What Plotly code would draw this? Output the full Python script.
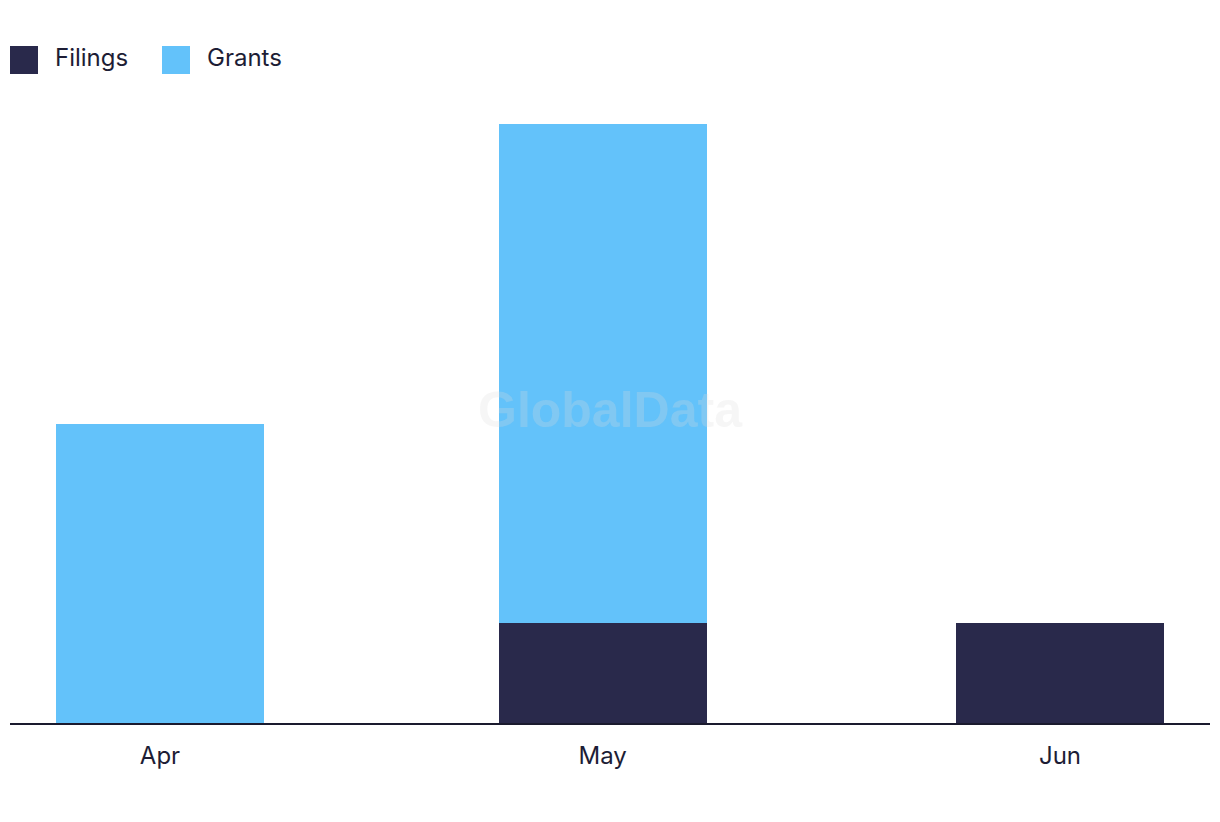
import plotly.graph_objects as go
from datetime import datetime, timedelta

months = ["2024-04-01", "2024-05-01", "2024-06-01"]
month_labels = ["Apr", "May", "Jun"]
series_names = ["Filings", "Grants"]
filings = [0, 1, 1]
grants = [3, 5, 0]
colors = ["#29294b", "#63c2fa"]

dates = [datetime.fromisoformat(m) for m in months]
bar_width_ms = 14.1 * 86400000

fig = go.Figure()
for name, vals, col in zip(series_names, [filings, grants], colors):
    fig.add_trace(go.Bar(
        x=dates, y=vals, name=name, marker=dict(color=col, line=dict(width=0)),
        width=[bar_width_ms] * len(dates), showlegend=False,
        hovertemplate="%{x|%b}: %{y}<extra>" + name + "</extra>",
    ))

x0 = dates[0] - timedelta(days=10.167)
x1 = dates[-1] + timedelta(days=10.167)

shapes = []
annotations = []
# custom legend
leg_x = [10, 162]
for i, (name, col) in enumerate(zip(series_names, colors)):
    shapes.append(dict(type="rect", xref="paper", yref="paper",
                       x0=(leg_x[i] - 10) / 1200, x1=(leg_x[i] + 28 - 10) / 1200,
                       y0=(723 - 74) / 599, y1=(723 - 46) / 599,
                       fillcolor=col, line=dict(width=0)))
    annotations.append(dict(text=name, xref="paper", yref="paper",
                            x=(leg_x[i] + 43 - 10) / 1200, y=(723 - 57) / 599,
                            xanchor="left", yanchor="middle", showarrow=False,
                            font=dict(size=24, color="#1d1d35", family="Inter")))

annotations.append(dict(text="<b>GlobalData</b>", xref="paper", yref="paper",
                        x=(610 - 10) / 1200, y=(723 - 410) / 599, showarrow=False,
                        font=dict(size=50, color="rgba(220,220,220,0.25)",
                                  family="Liberation Sans")))

fig.update_layout(
    barmode="stack",
    width=1220, height=822,
    margin=dict(l=10, r=10, t=124, b=99),
    paper_bgcolor="white", plot_bgcolor="white",
    bargap=0,
    xaxis=dict(type="date", range=[x0, x1], tickvals=dates, ticktext=month_labels,
               showgrid=False, zeroline=False, showline=True, linecolor="#1a1a2e",
               linewidth=2, ticks="", tickfont=dict(size=24, color="#1d1d35", family="Inter"),
               ticklabelstandoff=10, fixedrange=True),
    yaxis=dict(range=[0, 6], showgrid=False, zeroline=False, showticklabels=False,
               showline=False, fixedrange=True),
    shapes=shapes, annotations=annotations,
    showlegend=False,
)

fig.write_html("out.html")
